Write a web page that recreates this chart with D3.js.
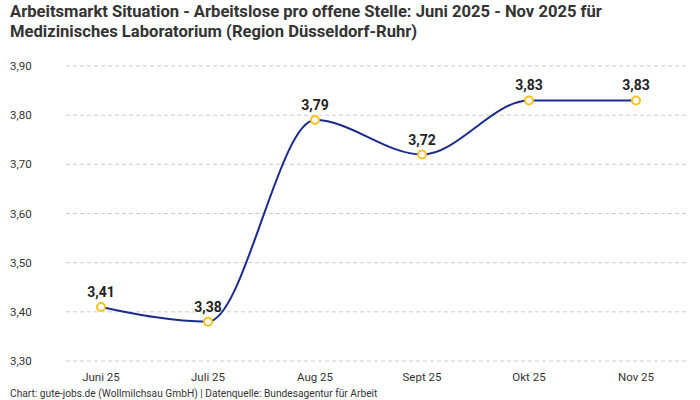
<!DOCTYPE html>
<html>
<head>
<meta charset="utf-8">
<script src="https://cdn.jsdelivr.net/npm/d3@7"></script>
<style>
  body { margin: 0; background: #fff; }
  text { font-family: Roboto, "Noto Sans", sans-serif; }
</style>
</head>
<body>
<div id="chart"></div>
<script>
var months = ['Juni 25', 'Juli 25', 'Aug 25', 'Sept 25', 'Okt 25', 'Nov 25'];
var values = [3.41, 3.38, 3.79, 3.72, 3.83, 3.83];
var yTicks = [3.3, 3.4, 3.5, 3.6, 3.7, 3.8, 3.9];

var chart_width = 700
var chart_height = 400

var fmt = function(v) { return v.toFixed(2).replace('.', ','); };

var svg = d3.select('#chart')
    .append('svg')
    .attr('width', chart_width)
    .attr('height', chart_height);

// Title
svg.append('text')
    .attr('x', 10).attr('y', 17)
    .attr('font-size', 16.6).attr('font-weight', 'bold').attr('fill', '#333')
    .text('Arbeitsmarkt Situation - Arbeitslose pro offene Stelle: Juni 2025 - Nov 2025 für');
svg.append('text')
    .attr('x', 10).attr('y', 37)
    .attr('font-size', 16.6).attr('font-weight', 'bold').attr('fill', '#333')
    .text('Medizinisches Laboratorium (Region Düsseldorf-Ruhr)');

var x = d3.scalePoint()
    .domain(months)
    .range([101, 636]);

var y = d3.scaleLinear()
    .domain([3.3, 3.9])
    .range([361, 66]);

// Gridlines
svg.append('g')
    .selectAll('line')
    .data(yTicks)
    .enter()
    .append('line')
    .attr('x1', 66).attr('x2', 688)
    .attr('y1', function(d) { return y(d); })
    .attr('y2', function(d) { return y(d); })
    .attr('stroke', '#ccc')
    .attr('stroke-dasharray', '4,3');

// Y labels
svg.append('g')
    .selectAll('text')
    .data(yTicks)
    .enter()
    .append('text')
    .attr('x', 10)
    .attr('y', function(d) { return y(d) + 4; })
    .attr('font-size', 11.5).attr('fill', '#333')
    .text(fmt);

// X labels
svg.append('g')
    .selectAll('text')
    .data(months)
    .enter()
    .append('text')
    .attr('x', function(d) { return x(d); })
    .attr('y', 381)
    .attr('text-anchor', 'middle')
    .attr('font-size', 11.5).attr('fill', '#333')
    .text(function(d) { return d; });

// Line
var line = d3.line()
    .x(function(d, i) { return x(months[i]); })
    .y(function(d) { return y(d); })
    .curve(d3.curveMonotoneX);

svg.append('path')
    .datum(values)
    .attr('d', line)
    .attr('fill', 'none')
    .attr('stroke', '#1b2c8f')
    .attr('stroke-width', 2);

// Points
svg.selectAll('circle')
    .data(values)
    .enter()
    .append('circle')
    .attr('cx', function(d, i) { return x(months[i]); })
    .attr('cy', function(d) { return y(d); })
    .attr('r', 4)
    .attr('fill', '#fff')
    .attr('stroke', '#f7c21b')
    .attr('stroke-width', 2);

// Value labels
svg.append('g')
    .selectAll('text')
    .data(values)
    .enter()
    .append('text')
    .attr('x', function(d, i) { return x(months[i]); })
    .attr('y', function(d) { return y(d) - 10; })
    .attr('text-anchor', 'middle')
    .attr('font-size', 14).attr('font-weight', 'bold').attr('fill', '#222')
    .text(fmt);

// Footer
svg.append('text')
    .attr('x', 10).attr('y', 397)
    .attr('font-size', 10.2).attr('fill', '#333')
    .text('Chart: gute-jobs.de (Wollmilchsau GmbH) | Datenquelle: Bundesagentur für Arbeit');
</script>
</body>
</html>
